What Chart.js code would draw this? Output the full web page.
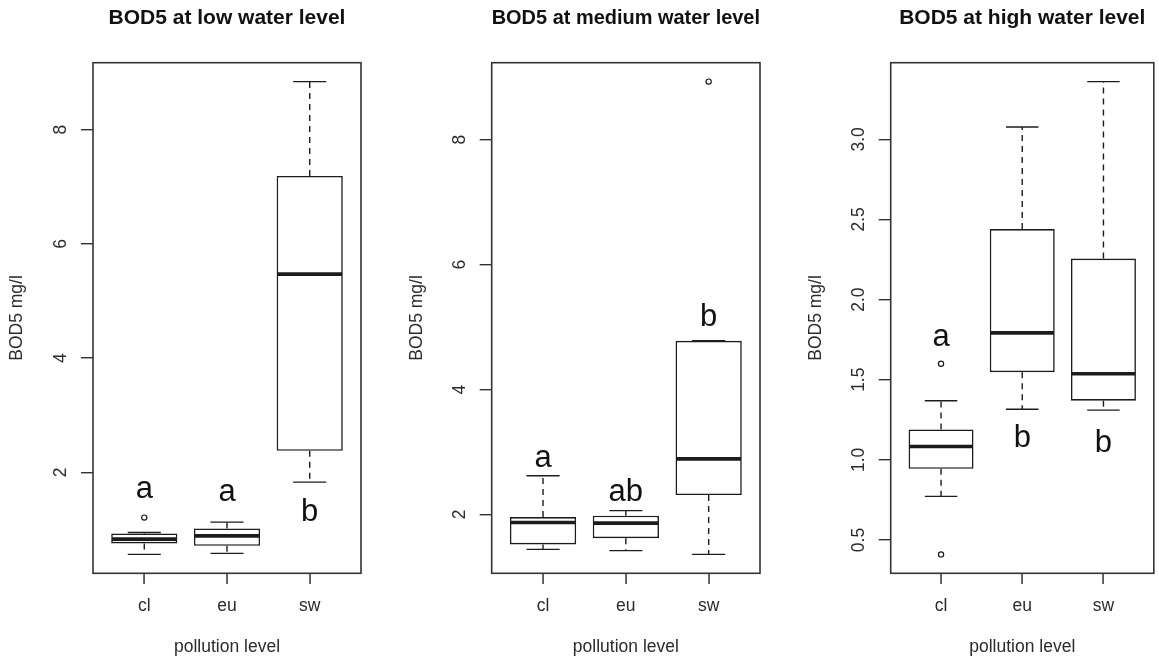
<!DOCTYPE html>
<html>
<head>
<meta charset="utf-8">
<script src="https://cdn.jsdelivr.net/npm/chart.js@4/dist/chart.umd.min.js"></script>
<style>
  html, body { margin: 0; padding: 0; background: #fff; }
  #wrap { position: relative; width: 1159px; height: 662px; overflow: hidden; }
  #wrap canvas { position: absolute; top: 0; }
</style>
</head>
<body>
<div id="wrap">
  <canvas id="pLow" width="386" height="662" style="left:0px"></canvas>
  <canvas id="pMed" width="386" height="662" style="left:386px"></canvas>
  <canvas id="pHigh" width="387" height="662" style="left:772px"></canvas>
</div>
<script>
// Pollution categories (x axis)
const categories = ['cl', 'eu', 'sw'];

// BOD5 (mg/l) at low water level: whisker ends, quartiles, medians, outliers
const lowWhiskerLo = [0.566, 0.583, 1.83];
const lowQ1        = [0.758, 0.716, 2.38];
const lowMedian    = [0.833, 0.890, 5.47];
const lowQ3        = [0.933, 1.020, 7.19];
const lowWhiskerHi = [0.950, 1.130, 8.84];
const lowOutliers  = [[1.21], [], []];
const lowLetters   = ['a', 'a', 'b'];
const lowLetterY   = [1.70, 1.655, 1.295];
const lowTicks     = [2, 4, 6, 8];

// BOD5 (mg/l) at medium water level
const medWhiskerLo = [1.44, 1.42, 1.36];
const medQ1        = [1.52, 1.62, 2.31];
const medMedian    = [1.87, 1.86, 2.89];
const medQ3        = [1.957, 1.98, 4.78];
const medWhiskerHi = [2.62, 2.06, 4.78];
const medOutliers  = [[], [], [8.93]];
const medLetters   = ['a', 'ab', 'b'];
const medLetterY   = [2.90, 2.357, 5.16];
const medTicks     = [2, 4, 6, 8];

// BOD5 (mg/l) at high water level
const highWhiskerLo = [0.772, 1.316, 1.31];
const highQ1        = [0.944, 1.547, 1.369];
const highMedian    = [1.083, 1.792, 1.537];
const highQ3        = [1.190, 2.440, 2.256];
const highWhiskerHi = [1.369, 3.077, 3.36];
const highOutliers  = [[1.60, 0.41], [], []];
const highLetters   = ['a', 'b', 'b'];
const highLetterY   = [1.763, 1.135, 1.104];
const highTicks     = [0.5, 1.0, 1.5, 2.0, 2.5, 3.0];

const FONT = "'Liberation Sans', Arial, Helvetica, sans-serif";
const INK = '#1c1c1c';
const TEXT = '#2b2b2b';

// R-style axis range: data range widened by 4% on each side
function paddedRange(values) {
  const lo = Math.min(...values), hi = Math.max(...values);
  const pad = 0.04 * (hi - lo);
  return [lo - pad, hi + pad];
}

function boxPlugin(p) {
  const line = (ctx, x1, y1, x2, y2) => {
    ctx.beginPath(); ctx.moveTo(x1, y1); ctx.lineTo(x2, y2); ctx.stroke();
  };
  return {
    id: 'boxParts',
    afterDatasetsDraw(chart) {
      const { ctx, scales: { x, y } } = chart;
      const bars = chart.getDatasetMeta(0).data;
      ctx.save();
      ctx.strokeStyle = INK;
      categories.forEach((c, i) => {
        const cx = x.getPixelForValue(i + 1);
        const hw = bars[i].width / 2;
        const yHi = y.getPixelForValue(p.hi[i]);
        const yLo = y.getPixelForValue(p.lo[i]);
        const yQ3 = y.getPixelForValue(p.q3[i]);
        const yQ1 = y.getPixelForValue(p.q1[i]);
        const yMed = y.getPixelForValue(p.med[i]);
        // dashed whiskers
        ctx.lineWidth = 1.4;
        ctx.setLineDash([6, 5]);
        if (yHi < yQ3) line(ctx, cx, yQ3, cx, yHi);
        if (yLo > yQ1) line(ctx, cx, yQ1, cx, yLo);
        ctx.setLineDash([]);
        // staples
        line(ctx, cx - hw / 2, yHi, cx + hw / 2, yHi);
        line(ctx, cx - hw / 2, yLo, cx + hw / 2, yLo);
        // median
        ctx.lineWidth = 3.6;
        line(ctx, cx - hw + 0.8, yMed, cx + hw - 0.8, yMed);
      });
      // group letters
      ctx.fillStyle = '#111';
      ctx.font = '31px ' + FONT;
      ctx.textAlign = 'center';
      ctx.textBaseline = 'middle';
      p.letters.forEach((t, i) => {
        ctx.fillText(t, x.getPixelForValue(i + 1), y.getPixelForValue(p.letterY[i]));
      });
      ctx.restore();
    },
    afterDraw(chart) {
      const { ctx, scales: { x }, chartArea: a } = chart;
      ctx.save();
      ctx.setLineDash([]);
      // plot frame
      ctx.strokeStyle = '#333';
      ctx.lineWidth = 1.6;
      ctx.strokeRect(a.left, a.top, a.right - a.left, a.bottom - a.top);
      // tick marks under the category axis
      ctx.fillStyle = '#333';
      categories.forEach((c, i) => {
        const px = Math.round(x.getPixelForValue(i + 1));
        ctx.fillRect(px - 0.7, Math.round(a.bottom), 1.5, 11);
      });
      ctx.restore();
    }
  };
}

function drawPanel(id, p) {
  const all = [...p.lo, ...p.hi, ...p.outliers.flat()];
  const [yMin, yMax] = paddedRange(all);
  const xPad = 0.04 * categories.length;
  const outlierPts = [];
  p.outliers.forEach((arr, i) => arr.forEach(v => outlierPts.push({ x: i + 1, y: v })));

  new Chart(document.getElementById(id), {
    type: 'bar',
    data: {
      datasets: [
        {
          type: 'bar',
          data: categories.map((c, i) => ({ x: i + 1, y: [p.q1[i], p.q3[i]] })),
          backgroundColor: '#ffffff',
          borderColor: INK,
          borderWidth: 1.6,
          borderSkipped: false,
          barPercentage: 0.8,
          categoryPercentage: 1.0
        },
        {
          type: 'scatter',
          data: outlierPts,
          pointStyle: 'circle',
          pointRadius: 2.6,
          pointBorderWidth: 1.2,
          pointBorderColor: INK,
          pointBackgroundColor: 'rgba(0,0,0,0)'
        }
      ]
    },
    options: {
      responsive: false,
      animation: false,
      events: [],
      layout: { padding: { left: 0, right: p.padRight, top: 0, bottom: 0 } },
      plugins: {
        legend: { display: false },
        tooltip: { enabled: false },
        title: {
          display: true,
          text: p.title,
          fullSize: false,
          color: '#111',
          font: { family: FONT, size: 21, weight: 'bold' },
          padding: { top: 5.7, bottom: 31.8 }
        }
      },
      scales: {
        x: {
          type: 'linear',
          offset: false,
          min: 0.5 - xPad,
          max: categories.length + 0.5 + xPad,
          afterBuildTicks: s => { s.ticks = categories.map((c, i) => ({ value: i + 1 })); },
          afterFit: s => { s.height = 88.7; },
          ticks: {
            autoSkip: false, maxRotation: 0, padding: 22,
            color: TEXT, font: { family: FONT, size: 17.5 },
            callback: v => categories[Math.round(v) - 1]
          },
          grid: { display: false, drawTicks: false },
          border: { display: false },
          title: {
            display: true, text: 'pollution level', color: TEXT,
            font: { family: FONT, size: 17.5 }, padding: { top: 0, bottom: 4.6 }
          }
        },
        y: {
          type: 'linear',
          min: yMin,
          max: yMax,
          afterBuildTicks: s => { s.ticks = p.ticks.map(v => ({ value: v })); },
          afterFit: s => { s.width = p.yWidth; },
          ticks: {
            minRotation: 90, maxRotation: 90, crossAlign: 'center', padding: p.tickPad,
            color: TEXT, font: { family: FONT, size: 17.5 },
            callback: v => p.decimals ? v.toFixed(p.decimals) : String(v)
          },
          grid: { drawOnChartArea: false, drawTicks: true, tickLength: 12, color: '#333', lineWidth: 1.4 },
          border: { display: false },
          title: {
            display: true, text: 'BOD5 mg/l', color: TEXT,
            font: { family: FONT, size: 17.5 }, padding: { top: p.titlePad, bottom: 0 }
          }
        }
      }
    },
    plugins: [boxPlugin(p)]
  });
}

drawPanel('pLow', {
  title: 'BOD5 at low water level',
  lo: lowWhiskerLo, q1: lowQ1, med: lowMedian, q3: lowQ3, hi: lowWhiskerHi,
  outliers: lowOutliers, letters: lowLetters, letterY: lowLetterY, ticks: lowTicks,
  decimals: 0, yWidth: 93, padRight: 25, tickPad: 15.3, titlePad: 6.7
});
drawPanel('pMed', {
  title: 'BOD5 at medium water level',
  lo: medWhiskerLo, q1: medQ1, med: medMedian, q3: medQ3, hi: medWhiskerHi,
  outliers: medOutliers, letters: medLetters, letterY: medLetterY, ticks: medTicks,
  decimals: 0, yWidth: 105.7, padRight: 12, tickPad: 14.8, titlePad: 21
});
drawPanel('pHigh', {
  title: 'BOD5 at high water level',
  lo: highWhiskerLo, q1: highQ1, med: highMedian, q3: highQ3, hi: highWhiskerHi,
  outliers: highOutliers, letters: highLetters, letterY: highLetterY, ticks: highTicks,
  decimals: 1, yWidth: 118.7, padRight: 0.7, tickPad: 7.3, titlePad: 33.3
});
</script>
</body>
</html>
